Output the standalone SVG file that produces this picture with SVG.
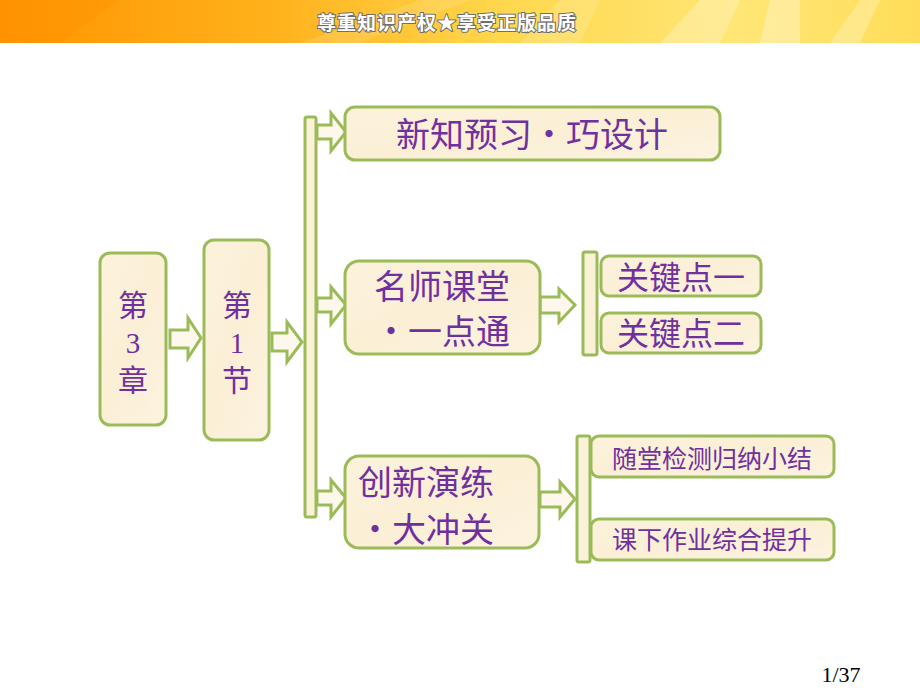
<svg xmlns="http://www.w3.org/2000/svg" width="920" height="690" viewBox="0 0 920 690">
<defs>
<linearGradient id="hdr" x1="0" y1="0" x2="1" y2="0">
<stop offset="0" stop-color="#FF9400"/>
<stop offset="0.3" stop-color="#FFB21C"/>
<stop offset="0.55" stop-color="#FFD84E"/>
<stop offset="0.8" stop-color="#FFE676"/>
<stop offset="1" stop-color="#FFDD5A"/>
</linearGradient>
<linearGradient id="paper" x1="0" y1="0" x2="1" y2="1">
<stop offset="0" stop-color="#FCF2DC"/>
<stop offset="0.5" stop-color="#FBEFD6"/>
<stop offset="1" stop-color="#FCF3E0"/>
</linearGradient>
<style>
.box{fill:url(#paper);stroke:#9BBB59;stroke-width:3}
.bar{fill:#FBF0D8;stroke:#9BBB59;stroke-width:3}
.arr{fill:#FEF8EC;stroke:#9BBB59;stroke-width:3;stroke-linejoin:miter}
.t{font-family:"Noto Sans CJK SC","Noto Sans",sans-serif;fill:#7030A0;font-weight:400}
.big{font-size:34px}
.mid{font-size:32px}
.sm{font-size:25px}
.col{font-size:30px}
.num{font-family:"Liberation Serif",serif;fill:#7030A0;font-size:29px}
</style>
</defs>
<rect width="920" height="690" fill="#FFFFFF"/>
<g id="header">
<rect x="0" y="0" width="920" height="43" fill="url(#hdr)"/>
<polygon points="300,43 420,0 470,0 360,43" fill="#FFFFFF" opacity="0.12"/>
<polygon points="520,43 560,0 600,0 580,43" fill="#FFFFFF" opacity="0.15"/>
<polygon points="660,43 700,0 740,0 720,43" fill="#FFFFFF" opacity="0.25"/>
<polygon points="760,43 770,0 800,0 800,43" fill="#FFFFFF" opacity="0.3"/>
<polygon points="830,43 860,0 880,0 860,43" fill="#FFFFFF" opacity="0.25"/>
<polygon points="0,43 0,0 120,0 60,43" fill="#FF9000" opacity="0.3"/>
<text x="447" y="30" text-anchor="middle" font-family="'Noto Sans CJK SC',sans-serif" font-weight="bold" font-size="19" letter-spacing="1" fill="#FFFFFF" stroke="#6E6E6E" stroke-width="2" paint-order="stroke">尊重知识产权★享受正版品质</text>
</g>
<g id="connectors">
<path class="arr" d="M170,330 H188 V318 L201,338 L188,358 V348 H170 Z"/>
<path class="arr" d="M272,333 H287 V322 L302,342 L287,362 V351 H272 Z"/>
<rect class="bar" x="305" y="117" width="11" height="400" rx="2"/>
<path class="arr" d="M317,125 H331 V113 L346,132 L331,151 V139 H317 Z"/>
<path class="arr" d="M317,298 H331 V287 L346,305 L331,324 V312 H317 Z"/>
<path class="arr" d="M317,491 H331 V480 L346,498 L331,517 V505 H317 Z"/>
<path class="arr" d="M540,297 H559 V289 L575,305 L559,322 V313 H540 Z"/>
<path class="arr" d="M540,492 H560 V482 L575,499 L560,517 V507 H540 Z"/>
<rect class="bar" x="583" y="252" width="14" height="103" rx="2"/>
<rect class="bar" x="577" y="436" width="13" height="126" rx="2"/>
</g>
<g id="n-ch3">
<rect class="box" x="100" y="253" width="66" height="172" rx="10"/>
<text class="t col" x="133" y="316" text-anchor="middle">第</text>
<text class="num" x="133" y="353" text-anchor="middle">3</text>
<text class="t col" x="133" y="391" text-anchor="middle">章</text>
</g>
<g id="n-sec1">
<rect class="box" x="204" y="240" width="65" height="200" rx="10"/>
<text class="t col" x="237" y="316" text-anchor="middle">第</text>
<text class="num" x="237" y="353" text-anchor="middle">1</text>
<text class="t col" x="237" y="391" text-anchor="middle">节</text>
</g>
<g id="n-xinzhi">
<rect class="box" x="345" y="107" width="375" height="53" rx="10"/>
<text class="t big" x="532" y="147" text-anchor="middle">新知预习•巧设计</text>
</g>
<g id="n-mingshi">
<rect class="box" x="345" y="261" width="195" height="93" rx="14"/>
<text class="t big" x="442" y="299" text-anchor="middle">名师课堂</text>
<text class="t big" x="442" y="344" text-anchor="middle">•一点通</text>
</g>
<g id="n-chuangxin">
<rect class="box" x="345" y="456" width="194" height="92" rx="14"/>
<text class="t big" x="358" y="495">创新演练</text>
<text class="t big" x="358" y="542">•大冲关</text>
</g>
<g id="n-key1">
<rect class="box" x="601" y="256" width="160" height="40" rx="8"/>
<text class="t mid" x="681" y="289" text-anchor="middle">关键点一</text>
</g>
<g id="n-key2">
<rect class="box" x="601" y="313" width="160" height="40" rx="8"/>
<text class="t mid" x="681" y="345" text-anchor="middle">关键点二</text>
</g>
<g id="n-suitang">
<rect class="box" x="591" y="436" width="243" height="41" rx="8"/>
<text class="t sm" x="712" y="468" text-anchor="middle">随堂检测归纳小结</text>
</g>
<g id="n-kexia">
<rect class="box" x="591" y="519" width="243" height="41" rx="8"/>
<text class="t sm" x="712" y="549" text-anchor="middle">课下作业综合提升</text>
</g>
<g id="page">
<text x="841" y="682" text-anchor="middle" font-family="'Liberation Serif',serif" font-size="22" fill="#000000">1/37</text>
</g>
</svg>
